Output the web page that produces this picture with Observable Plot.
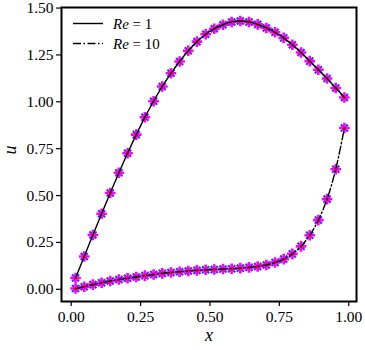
<!DOCTYPE html>
<html>
<head>
<meta charset="utf-8">
<script src="https://cdn.jsdelivr.net/npm/d3@7"></script>
<script src="https://cdn.jsdelivr.net/npm/@observablehq/plot@0.6"></script>
<style>
  html, body { margin: 0; padding: 0; background: #fff; }
  #wrap { position: relative; width: 365px; height: 350px; font-family: "Liberation Serif", "DejaVu Serif", serif; }
  #legend { position: absolute; left: 0; top: 0; pointer-events: none; }
</style>
</head>
<body>
<div id="wrap"></div>
<script>
const xValues = [0.0156,0.0469,0.0781,0.1094,0.1406,0.1719,0.2031,0.2344,0.2656,0.2969,0.3281,0.3594,0.3906,0.4219,0.4531,0.4844,0.5156,0.5469,0.5781,0.6094,0.6406,0.6719,0.7031,0.7344,0.7656,0.7969,0.8281,0.8594,0.8906,0.9219,0.9531,0.9844];
const uRe1 = [0.060,0.175,0.290,0.403,0.514,0.622,0.726,0.825,0.918,1.003,1.082,1.152,1.215,1.272,1.321,1.360,1.390,1.411,1.426,1.431,1.426,1.413,1.394,1.371,1.341,1.304,1.263,1.217,1.171,1.124,1.074,1.023];
const uRe10 = [0.004,0.014,0.025,0.035,0.044,0.052,0.059,0.066,0.073,0.079,0.085,0.090,0.094,0.098,0.101,0.104,0.106,0.108,0.110,0.113,0.117,0.122,0.130,0.143,0.161,0.189,0.229,0.288,0.369,0.481,0.640,0.860];
const seriesNames = ["Re = 1", "Re = 10"];
const xTicks = [0, 0.25, 0.5, 0.75, 1.0];
const yTicks = [0, 0.25, 0.5, 0.75, 1.0, 1.25, 1.5];

const d1 = xValues.map((x, i) => ({x, u: uRe1[i], s: seriesNames[0]}));
const d10 = xValues.map((x, i) => ({x, u: uRe10[i], s: seriesNames[1]}));
const all = d1.concat(d10);

const font = "Liberation Serif, DejaVu Serif, serif";
const fmt = d3.format(".2f");

const chart = Plot.plot({
  width: 365,
  height: 350,
  marginLeft: 61,
  marginRight: 9,
  marginTop: 7,
  marginBottom: 49,
  style: {fontFamily: font, fontSize: "15px", color: "#000", background: "#fff", overflow: "visible"},
  x: {domain: [-0.035, 1.028], ticks: xTicks, tickFormat: fmt},
  y: {domain: [-0.065, 1.503], ticks: yTicks, tickFormat: fmt},
  marks: [
    Plot.axisX({ticks: xTicks, tickFormat: fmt, tickSize: 5, tickPadding: 4, label: null, fontSize: 15.5, strokeWidth: 1.2}),
    Plot.axisY({ticks: yTicks, tickFormat: fmt, tickSize: 5, tickPadding: 3, label: null, fontSize: 15.5, strokeWidth: 1.2}),
    Plot.dot(all, {x: "x", y: "u", symbol: "times", r: 3.3, stroke: "#3a3aff", strokeWidth: 2.2}),
    Plot.dot(all, {x: "x", y: "u", r: 2.6, fill: "#ff00ff", stroke: null}),
    Plot.dot(all, {x: "x", y: "u", symbol: "plus", r: 3.5, stroke: "#ff00ff", strokeWidth: 2.6}),
    Plot.dot(all, {x: "x", y: "u", r: 1.6, fill: "#ff0000", stroke: null}),
    Plot.line(d1, {x: "x", y: "u", stroke: "#000", strokeWidth: 1.4, curve: "catmull-rom"}),
    Plot.line(d10, {x: "x", y: "u", stroke: "#000", strokeWidth: 1.4, strokeDasharray: "8,2.5,1.5,2.5", curve: "catmull-rom"}),
    Plot.frame({stroke: "#000", strokeWidth: 2}),
    Plot.text(["x"], {frameAnchor: "bottom", dy: 39, text: d => d, fontSize: 18, fontStyle: "italic", fontFamily: font}),
    Plot.text(["u"], {frameAnchor: "left", dx: -51, text: d => d, fontSize: 18, fontStyle: "italic", fontFamily: font, rotate: -90})
  ]
});

const wrap = document.getElementById("wrap");
wrap.appendChild(chart);

// Legend overlay
const ns = "http://www.w3.org/2000/svg";
const leg = document.createElementNS(ns, "svg");
leg.setAttribute("id", "legend");
leg.setAttribute("width", 365);
leg.setAttribute("height", 350);
const rows = [{y: 23.5, dash: null, label: seriesNames[0]}, {y: 43.5, dash: "8,2.5,1.5,2.5", label: seriesNames[1]}];
rows.forEach(r => {
  const ln = document.createElementNS(ns, "line");
  ln.setAttribute("x1", 73); ln.setAttribute("x2", 103);
  ln.setAttribute("y1", r.y); ln.setAttribute("y2", r.y);
  ln.setAttribute("stroke", "#000"); ln.setAttribute("stroke-width", 1.4);
  if (r.dash) ln.setAttribute("stroke-dasharray", r.dash);
  leg.appendChild(ln);
  const t = document.createElementNS(ns, "text");
  t.setAttribute("x", 113); t.setAttribute("y", r.y + 5);
  t.setAttribute("font-family", font); t.setAttribute("font-size", 15);
  const parts = r.label.split(" = ");
  const a = document.createElementNS(ns, "tspan");
  a.setAttribute("font-style", "italic"); a.textContent = parts[0];
  const b = document.createElementNS(ns, "tspan");
  b.textContent = " = " + parts[1];
  t.appendChild(a); t.appendChild(b);
  leg.appendChild(t);
});
wrap.appendChild(leg);
</script>
</body>
</html>
